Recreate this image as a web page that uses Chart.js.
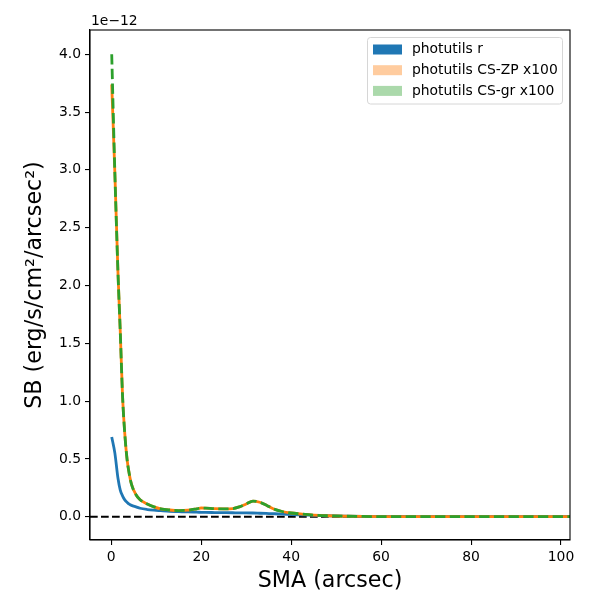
<!DOCTYPE html>
<html>
<head>
<meta charset="utf-8">
<script src="https://cdn.jsdelivr.net/npm/chart.js@4/dist/chart.umd.min.js"></script>
<style>
  html, body { margin: 0; padding: 0; background: #fff; }
  #wrap { width: 600px; height: 600px; }
</style>
</head>
<body>
<div id="wrap"><canvas id="sb-chart" width="600" height="600"></canvas></div>
<script>
// Surface brightness profiles, values in units of 1e-12 erg/s/cm2/arcsec2
const sma = [0.1, 0.8, 1.5, 2.0, 2.5, 3.0, 3.5, 4.0, 4.5, 5.5, 6.4, 8.0, 9.5, 11, 13, 15, 17, 19, 20, 21,
  23, 25, 27, 28.5, 30, 31.5, 33, 34.5, 36, 38, 40, 42, 45, 48, 52, 56, 60, 70, 80, 90, 100, 106];

const sbR = [0.69, 0.55, 0.33, 0.23, 0.18, 0.145, 0.125, 0.108, 0.098, 0.085, 0.073, 0.062, 0.056, 0.052, 0.047, 0.044, 0.041, 0.039, 0.038, 0.037,
  0.036, 0.035, 0.034, 0.033, 0.033, 0.032, 0.030, 0.028, 0.026, 0.023, 0.019, 0.016, 0.012, 0.008, 0.005, 0.003, 0.002, 0.001, 0.0005, 0.0003, 0.0002, 0.0001];

const sbZp = [3.74, 2.97, 2.1, 1.6, 1.05, 0.72, 0.5, 0.37, 0.28, 0.19, 0.147, 0.11, 0.085, 0.068, 0.058, 0.053, 0.056, 0.068, 0.075, 0.074,
  0.069, 0.068, 0.070, 0.085, 0.11, 0.135, 0.125, 0.10, 0.068, 0.045, 0.032, 0.024, 0.014, 0.008, 0.004, 0.002, 0.001, 0.0005, 0.0003, 0.0003, 0.0003, 0.0003];

const sbGr = [4.0, 2.97, 2.1, 1.6, 1.05, 0.72, 0.5, 0.37, 0.28, 0.19, 0.147, 0.11, 0.085, 0.068, 0.058, 0.053, 0.056, 0.068, 0.075, 0.074,
  0.069, 0.068, 0.070, 0.085, 0.11, 0.135, 0.125, 0.10, 0.068, 0.045, 0.032, 0.024, 0.014, 0.008, 0.004, 0.002, 0.001, 0.0005, 0.0003, 0.0003, 0.0003, 0.0003];

const xTicks = [0, 20, 40, 60, 80, 100];
const yTicks = [0.0, 0.5, 1.0, 1.5, 2.0, 2.5, 3.0, 3.5, 4.0];
const legendLabels = ['photutils r', 'photutils CS-ZP x100', 'photutils CS-gr x100'];
const offsetLabel = '1e\u221212';

const FONT = "'DejaVu Sans', sans-serif";
const BLUE = '#1f77b4';
const ORANGE = '#ff7f0e';
const GREEN = '#2ca02c';
const legendColors = [BLUE, 'rgba(255,127,14,0.4)', 'rgba(44,160,44,0.4)'];

const toPoints = (ys) => sma.map((x, i) => ({ x: x, y: ys[i] }));

// Frame, offset text and legend box drawn on top of the chart
const decorPlugin = {
  id: 'decor',
  afterDraw: (chart) => {
    const ctx = chart.ctx;
    const area = chart.chartArea;
    ctx.save();
    ctx.strokeStyle = '#000';
    ctx.lineWidth = 1.1;
    ctx.strokeRect(area.left, area.top, area.right - area.left, area.bottom - area.top);

    ctx.fillStyle = '#000';
    ctx.font = '13.9px ' + FONT;
    ctx.textAlign = 'left';
    ctx.textBaseline = 'middle';
    ctx.fillText(offsetLabel, area.left + 1, 21);

    // legend
    const bx = 367.5, by = 37.5, bw = 195, bh = 66.5, r = 3;
    ctx.beginPath();
    ctx.moveTo(bx + r, by);
    ctx.arcTo(bx + bw, by, bx + bw, by + bh, r);
    ctx.arcTo(bx + bw, by + bh, bx, by + bh, r);
    ctx.arcTo(bx, by + bh, bx, by, r);
    ctx.arcTo(bx, by, bx + bw, by, r);
    ctx.closePath();
    ctx.fillStyle = 'rgba(255,255,255,0.8)';
    ctx.fill();
    ctx.strokeStyle = '#d6d6d6';
    ctx.lineWidth = 1;
    ctx.stroke();

    legendLabels.forEach((label, i) => {
      const cy = 49.5 + i * 20.7;
      ctx.fillStyle = legendColors[i];
      ctx.fillRect(373, cy - 5, 29, 10);
      ctx.fillStyle = '#000';
      ctx.fillText(label, 412, cy);
    });
    ctx.restore();
  }
};

const lineSet = (label, ys, color, order, dash) => ({
  label: label,
  data: toPoints(ys),
  borderColor: color,
  backgroundColor: color,
  borderWidth: 2.8,
  borderDash: dash || [],
  pointRadius: 0,
  fill: false,
  cubicInterpolationMode: 'monotone',
  clip: 0,
  order: order
});

new Chart(document.getElementById('sb-chart'), {
  type: 'line',
  data: {
    datasets: [
      lineSet(legendLabels[2], sbGr, GREEN, 1, [10.3, 4.4]),
      lineSet(legendLabels[1], sbZp, ORANGE, 2),
      lineSet(legendLabels[0], sbR, BLUE, 3),
      {
        label: 'zero',
        data: [{ x: -4.73, y: 0 }, { x: 110, y: 0 }],
        borderColor: '#000',
        borderWidth: 2,
        borderDash: [7.7, 3.3],
        pointRadius: 0,
        clip: 0,
        order: 4
      }
    ]
  },
  options: {
    responsive: false,
    animation: false,
    devicePixelRatio: 1,
    layout: { padding: { top: 30, right: 30, left: 0, bottom: 0 } },
    plugins: { legend: { display: false }, tooltip: { enabled: false } },
    scales: {
      x: {
        type: 'linear',
        min: -4.73,
        max: 102.0,
        afterBuildTicks: (scale) => { scale.ticks = xTicks.map(v => ({ value: v })); },
        afterFit: (scale) => { scale.height = 60; },
        grid: { drawOnChartArea: false, drawTicks: true, tickLength: 5, color: '#000', lineWidth: 1.1 },
        border: { display: true, color: '#000', width: 1.1 },
        ticks: { color: '#000', font: { family: FONT, size: 13.9 }, padding: 4, maxRotation: 0, autoSkip: false,
          callback: (v) => String(v) },
        title: { display: true, text: 'SMA (arcsec)', color: '#000', font: { family: FONT, size: 22.2 },
          padding: { top: 0, bottom: 5 } }
      },
      y: {
        type: 'linear',
        min: -0.2016,
        max: 4.21,
        afterBuildTicks: (scale) => { scale.ticks = yTicks.map(v => ({ value: v })); },
        afterFit: (scale) => { scale.width = 90; },
        grid: { drawOnChartArea: false, drawTicks: true, tickLength: 5, color: '#000', lineWidth: 1.1 },
        border: { display: true, color: '#000', width: 1.1 },
        ticks: { color: '#000', font: { family: FONT, size: 13.9 }, padding: 4, autoSkip: false,
          callback: (v) => v.toFixed(1) },
        title: { display: true, text: 'SB (erg/s/cm\u00b2/arcsec\u00b2)', color: '#000', font: { family: FONT, size: 22.2 },
          padding: { top: 22, bottom: 0 } }
      }
    }
  },
  plugins: [decorPlugin]
});
</script>
</body>
</html>
